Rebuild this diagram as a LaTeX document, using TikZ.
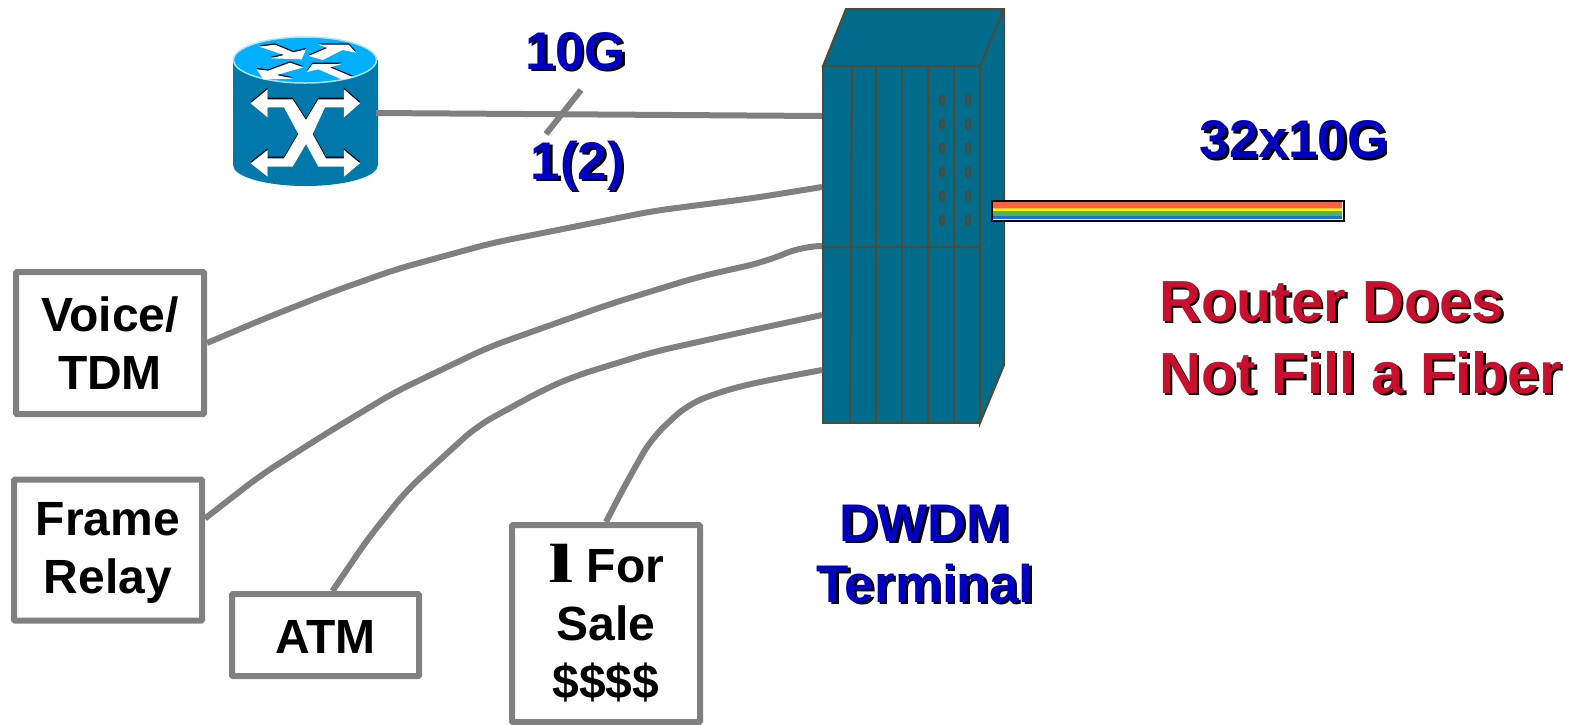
\documentclass[tikz,border=0pt]{standalone}
\usepackage{fontspec}
\setmainfont{Liberation Sans}
\newfontfamily\glyphfont{Liberation Serif}
\usetikzlibrary{positioning}
\definecolor{termblue}{HTML}{006B8A}
\definecolor{termline}{HTML}{4F4A32}
\definecolor{routerblue}{HTML}{0078AA}
\definecolor{routertop}{HTML}{00B0FF}
\definecolor{routerrim}{HTML}{A8E4F8}
\definecolor{linkgray}{HTML}{808080}
\definecolor{labelblue}{HTML}{0000C0}
\definecolor{labelred}{HTML}{C8102E}
\definecolor{fibera}{HTML}{FF6040}
\definecolor{fiberb}{HTML}{FFC020}
\definecolor{fiberc}{HTML}{FFFF00}
\definecolor{fiberd}{HTML}{50B060}
\definecolor{fibere}{HTML}{2070D0}
\newcommand{\shadowtxt}[1]{\rlap{\kern2.5pt\raisebox{-2.5pt}{\color{black}#1}}#1}
\tikzset{
  svcbox/.style={draw=linkgray, line width=6pt, fill=white, rounded corners=1pt, align=center, inner sep=0pt, font=\bfseries\fontsize{48}{58}\selectfont},
  link/.style={draw=linkgray, line width=6pt, line join=round, rounded corners=18pt},
  bluelabel/.style={text=labelblue, align=center, inner sep=0pt, font=\bfseries\fontsize{53}{61}\selectfont},
  panel/.style={draw=termline, line width=2pt}
}
\begin{document}
\begin{tikzpicture}[x=1pt,y=-1pt]
\useasboundingbox (0,0) rectangle (1576,724);
% router cylinder
\fill[routerrim] (233,165) arc[x radius=72.5, y radius=23, start angle=180, end angle=360] -- (378,160) -- (233,160) -- cycle;
\fill[routerblue] (233,60) -- (378,60) -- (378,165) arc[x radius=72.5, y radius=21, start angle=0, end angle=180] -- cycle;
\fill[routertop, draw=routerrim, line width=1.5pt] (305,60) ellipse[x radius=71.5, y radius=23];
\coordinate (router) at (376,113);
\begin{scope}[shift={(210,20)},scale=0.3333]
% white arrows on the side, black edge behind
\foreach \c/\d in {black/-5,white/0} {
\fill[\c, shift={(0,\d)}] (122,250) -- (173,208) -- (173,238) -- (248,238) -- (288,300) -- (325,238) -- (402,238) -- (402,208) -- (450,250) -- (402,292) -- (402,262) -- (345,262) -- (308,342) -- (348,415) -- (402,415) -- (402,390) -- (450,430) -- (402,470) -- (402,440) -- (325,440) -- (288,372) -- (248,440) -- (173,440) -- (173,470) -- (122,430) -- (173,390) -- (173,415) -- (222,415) -- (265,342) -- (222,262) -- (173,262) -- (173,292) -- cycle;
}
% arrows on the lid
\foreach \c/\d in {black/-4,white/0} {
\fill[\c, shift={(0,\d)}] (148,80) -- (195,74) -- (250,97) -- (288,88) -- (275,118) -- (182,115) -- (222,105) -- cycle;
\fill[\c, shift={(0,\d)}] (296,108) -- (352,84) -- (326,74) -- (416,74) -- (438,98) -- (398,90) -- (338,120) -- cycle;
\fill[\c, shift={(0,\d)}] (280,142) -- (240,128) -- (175,152) -- (140,148) -- (160,178) -- (250,176) -- (200,165) -- cycle;
\fill[\c, shift={(0,\d)}] (290,156) -- (308,132) -- (395,132) -- (360,142) -- (430,172) -- (395,178) -- (325,148) -- cycle;
}
\end{scope}
% DWDM terminal
\fill[termblue, panel] (823,66) -- (846,9) -- (1004,9) -- (1004,365) -- (980,423) -- (980,66) -- cycle;
\draw[panel] (980,66) -- (1004,9);
\node[draw=termline, fill=termblue, line width=2pt, minimum width=157pt, minimum height=357pt, inner sep=0pt] (terminal) at (901.5,244.5) {};
\draw[panel] (823,247) -- (980,247);
\foreach \xa/\xb in {852/850,876/876,902/902,928/928,954/954} {
  \draw[panel] (\xa,66) -- (\xb,423);
}
\foreach \px in {942,968} {
  \foreach \py in {100,124,148,172,196,220} {
    \draw[panel] (\px,\py) ellipse[x radius=2.2, y radius=4.8];
  }
}
% rainbow fiber
\fill[white] (992,201) rectangle (1344,221);
\fill[fibera] (993,202) rectangle (1342,207.7);
\fill[fiberb] (993,207.7) rectangle (1342,209);
\fill[fiberc] (993,209) rectangle (1342,211);
\fill[fiberd] (993,211) rectangle (1342,215.5);
\fill[fibere] (993,215.5) rectangle (1342,219.3);
\node[draw=black, line width=2pt, minimum width=352pt, minimum height=20pt, inner sep=0pt] (fiber) at (1168,211) {};
% service boxes
\node[svcbox, minimum width=188pt, minimum height=142pt] (voice) at (110,343) {Voice/\\TDM};
\node[svcbox, minimum width=188pt, minimum height=141pt] (frame) at (108,550) {\rule{0pt}{38pt}Frame\\Relay};
\node[svcbox, minimum width=187pt, minimum height=82pt] (atm) at (325.5,635) {\rule{0pt}{36pt}ATM};
\node[svcbox, minimum width=188pt, minimum height=197pt] (sale) at (606,623.5) {{\glyphfont\scalebox{1.9}[1.15]{l}} For\\Sale\\\$\$\$\$};
% links
\draw[link] (router) -- (terminal.west |- 0,116);
\coordinate (ticka) at (581,90);
\coordinate (tickb) at (546,134);
\draw[link] (ticka) -- (tickb);
\draw[link] (voice.east) -- (266,318) -- (332,292) -- (397,269) -- (492,243) -- (573,227) -- (653,211) -- (754,198) -- (terminal.west |- 0,187);
\draw[link] (frame.18) -- (261,475) -- (327,433) -- (395,392) -- (489,347) -- (610,304) -- (698,277) -- (764,262) -- (804,246) -- (terminal.west |- 0,246);
\draw[link] (atm.81) -- (367,540) -- (407,490) -- (477,426) -- (543,390) -- (575,376) -- (653,352) -- (734,334) -- (terminal.west |- 0,315);
\draw[link] (sale.north) -- (623,489) -- (651,439) -- (688,404) -- (729,389) -- (769,380) -- (terminal.west |- 0,370);
% labels
\node[bluelabel] (rate) at (576,52) {\shadowtxt{10G}};
\node[bluelabel] (count) at (578,167) {\shadowtxt{1(2)}};
\node[bluelabel] (total) at (1294,141) {\shadowtxt{32x10G}};
\node[bluelabel] (term) at (925,555) {\shadowtxt{DWDM}\\\shadowtxt{Terminal}};
\node[text=labelred, align=left, inner sep=0pt, anchor=west, font=\bfseries\fontsize{58}{72}\selectfont] (note) at (1159,339) {\shadowtxt{Router Does}\\\shadowtxt{Not Fill a Fiber}};
\end{tikzpicture}
\end{document}
